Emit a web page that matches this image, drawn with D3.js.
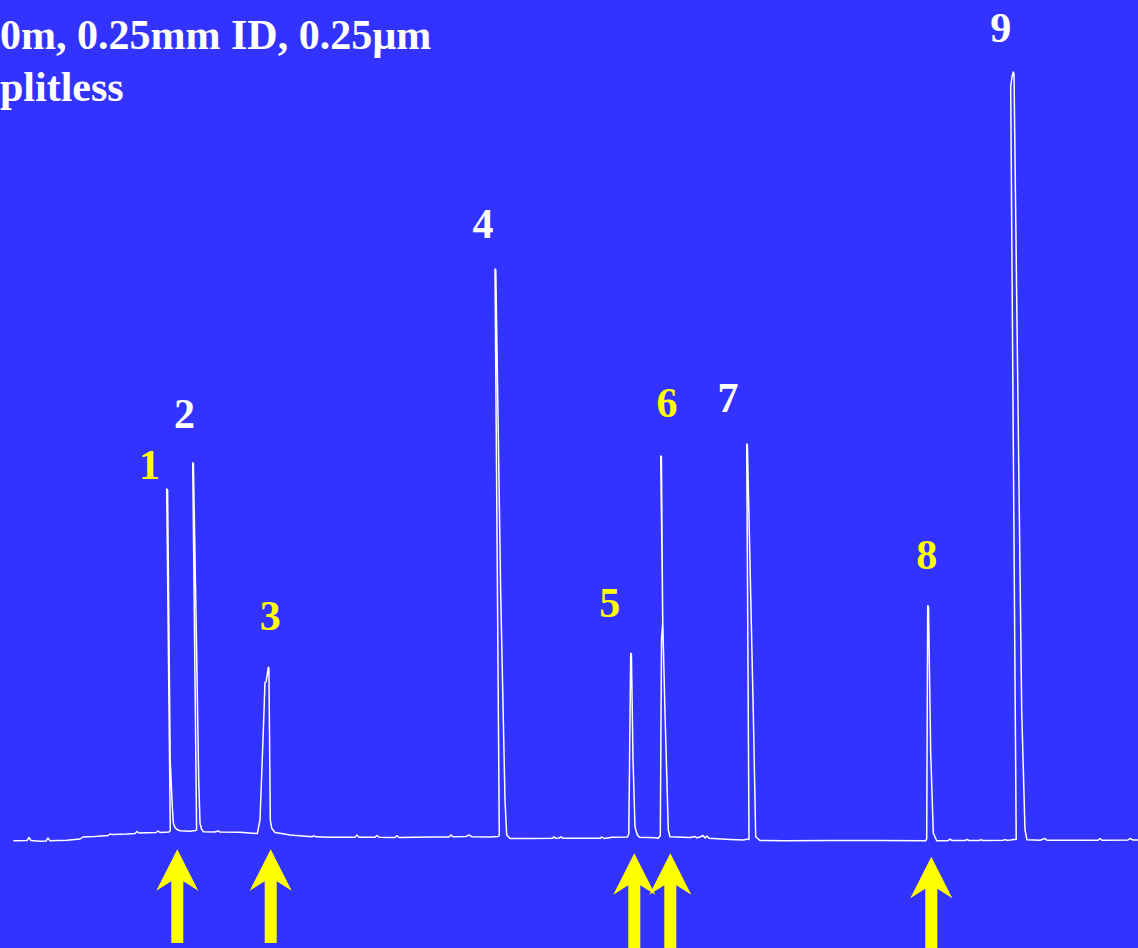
<!DOCTYPE html>
<html><head><meta charset="utf-8">
<script src="https://cdn.jsdelivr.net/npm/d3@7"></script>
<style>html,body{margin:0;padding:0;background:#3333ff;overflow:hidden}</style>
</head><body><svg id="c" width="1138" height="948"></svg>
<script>
// ---- data ----
const titleLines = ["0m, 0.25mm ID, 0.25µm", "plitless"];

// detector trace: scan number (time) and response
const traceTime = [
  14, 27, 29, 31, 40, 46, 48, 50, 67, 80, 83, 95, 108, 110, 112, 127, 135, 137, 139, 156, 158, 160, 169,
  170.3, 166.7, 167.6, 170.2, 172.3, 173.3, 175, 177, 180, 190, 195.5,
  196.6, 192.7, 193.4, 196, 198.7, 200, 201.5, 203.3, 215, 218, 220, 240, 257.3,
  260, 263, 265, 266.2, 268.3, 268.9, 270.3, 271.7, 275, 280, 290, 312, 314, 316, 330, 355, 357, 359, 375, 377, 379, 395, 397, 399, 430, 449, 451, 453, 466, 469, 472, 490, 498,
  499.3, 495, 495.8, 500.7, 505, 506.7, 510, 530, 552, 554, 556, 559, 561, 563, 600, 602, 604, 612, 627.5,
  628.8, 630.7, 631.4, 633, 635, 637, 639.3, 655, 658.3, 660.3,
  661.5, 662.8, 660.7, 661.4, 662.7, 665, 668.3, 670, 690, 695, 697, 700, 703, 705, 707, 709, 730, 743, 748.5,
  749, 746.7, 747.4, 753.3, 755.7, 760, 785, 830, 880, 925.5,
  926.7, 927.7, 928.5, 930.7, 933.3, 936.7, 948, 950, 952, 965, 967, 969, 979, 981, 983, 1003, 1005, 1007, 1011, 1013, 1016.2,
  1010.7, 1012, 1013.3, 1014, 1021.7, 1025, 1027, 1040, 1045, 1047, 1098, 1100, 1102, 1128, 1130, 1133, 1138
];
const traceSignal = [
  4.3, 4.5, 7.5, 4.5, 3.7, 4, 7, 4.2, 4.7, 6, 8, 8.5, 9.5, 11, 10.5, 11, 11.5, 13.5, 12, 12.5, 14, 12.5, 13,
  14.5, 356, 355, 85, 38.3, 22, 17.5, 15.5, 14.3, 13.7, 14.5,
  15, 382.3, 381.5, 232, 65, 22, 16, 13.3, 13, 14, 13, 12.8, 11.5,
  25, 105, 162.7, 163.3, 177.7, 177, 25, 16.7, 12.5, 11.7, 10, 8.3, 9.2, 8.2, 7.7, 7.7, 10, 7.7, 7.7, 9.5, 7.7, 7.5, 9.2, 7.5, 8, 8, 10, 8.2, 8.5, 10, 8.2, 8, 8.5,
  9.5, 576, 575, 251, 45, 10, 6.5, 6.4, 6.7, 8, 6.7, 7, 8.2, 6.7, 6.7, 8, 6.5, 7.7, 8,
  11, 191.7, 191, 85, 18.3, 11, 7.7, 7.3, 6.7, 9.5,
  205, 223, 389, 388, 225, 132, 15, 8.3, 7.5, 8.5, 7.2, 8, 9.5, 7, 9, 6.7, 5.5, 5, 6,
  5.5, 401, 400, 132, 8.3, 4.5, 4.3, 4.5, 4.5, 4.3,
  6, 239.3, 238.5, 92, 12, 4.3, 4.3, 5.8, 4.5, 4.5, 5.5, 4.5, 4.5, 5.2, 4.5, 4.7, 5.4, 4.7, 5, 5.5, 5.4,
  758.5, 768, 773, 771.5, 134, 15, 5.2, 4.7, 6.5, 4.7, 4.8, 6.5, 4.8, 5, 6.5, 5, 5
];

// peaks: name, apex time, apex response
const peakNames   = ["1", "2", "3", "4", "5", "6", "7", "8", "9"];
const peakTimes   = [166.7, 192.7, 268.3, 495, 630.7, 660.7, 746.7, 927.7, 1013.3];
const peakHeights = [356, 382.3, 177.7, 576, 191.7, 389, 401, 239.3, 773];
const markedPeaks = ["1", "3", "5", "6", "8"];   // highlighted (yellow + arrow)
const arrowTimes  = [177.3, 270.7, 634.3, 670.3, 931.3];

// ---- layout / style ----
const W = 1138, H = 948;
const BG = "#3333ff", YEL = "#ffff00", WHITE = "#ffffff";
const FONT = "'Liberation Serif','Times New Roman',Times,serif";
const labelOffsets = [[-17.2,-10],[-8.2,-34.7],[2,-37.3],[-12,-31],[-21,-36.3],[6.3,-39],[-18.7,-32],[-1,-36.7],[-12.6,-30]];
const arrowTipY = [849.3, 849.3, 853.3, 853.3, 856.7];
const arrowBottom = [943, 943, 952, 952, 952];

const svg = d3.select("#c");
svg.append("rect").attr("width", W).attr("height", H).attr("fill", BG);

const x = d3.scaleLinear().domain([0, 1138]).range([0, W]);
const y = d3.scaleLinear().domain([0, 845]).range([845, 0]);

const pts = traceTime.map((t, i) => [t, traceSignal[i]]);
const line = d3.line().x(d => x(d[0])).y(d => y(d[1])).curve(d3.curveLinear);
svg.append("path").datum(pts).attr("d", line)
  .attr("fill", "none").attr("stroke", WHITE).attr("stroke-width", 1.5)
  .attr("stroke-linejoin", "round").attr("stroke-linecap", "round");

// title
svg.selectAll("text.title").data(titleLines).join("text")
  .attr("class", "title")
  .attr("x", 0).attr("y", (d, i) => i === 0 ? 49 : 101)
  .attr("fill", WHITE).attr("font-family", FONT).attr("font-weight", "bold")
  .attr("font-size", 42).text(d => d);

// peak labels
svg.selectAll("text.peak").data(peakNames).join("text")
  .attr("class", "peak")
  .attr("x", (d, i) => x(peakTimes[i]) + labelOffsets[i][0])
  .attr("y", (d, i) => y(peakHeights[i]) + labelOffsets[i][1])
  .attr("text-anchor", "middle")
  .attr("fill", d => markedPeaks.includes(d) ? YEL : WHITE)
  .attr("font-family", FONT).attr("font-weight", "bold").attr("font-size", 42)
  .text(d => d);

// arrows
svg.selectAll("path.arrow").data(arrowTimes).join("path")
  .attr("class", "arrow")
  .attr("d", (t, i) => {
    const cx = x(t), ty = arrowTipY[i], b = arrowBottom[i];
    return `M${cx},${ty} L${cx + 21},${ty + 41.5} L${cx + 6},${ty + 32} L${cx + 6},${b} L${cx - 6},${b} L${cx - 6},${ty + 32} L${cx - 21},${ty + 41.5} Z`;
  })
  .attr("fill", YEL);
</script></body></html>
